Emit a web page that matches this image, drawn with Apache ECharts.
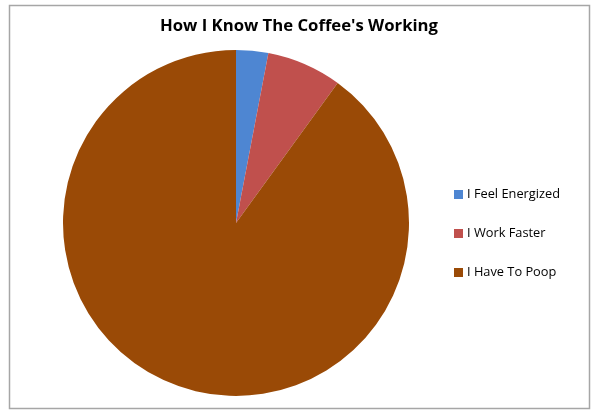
<!DOCTYPE html>
<html><head><meta charset="utf-8">
<script src="https://cdn.jsdelivr.net/npm/echarts@6/dist/echarts.min.js"></script>
<style>html,body{margin:0;padding:0;background:#fff}#c{width:598px;height:415px}</style>
</head><body><div id="c"></div>
<script>
const categories = ["I Feel Energized", "I Work Faster", "I Have To Poop"];
const values = [3, 7, 90];
const colors = ["#4E86D2", "#C0504D", "#9A4A06"];
const titleText = "How I Know The Coffee's Working";

const chart = echarts.init(document.getElementById('c'));
chart.setOption({
  animation: false,
  backgroundColor: '#fff',
  title: {
    text: titleText, left: 'center', top: 13,
    textStyle: { fontFamily: 'Open Sans', fontWeight: 'bold', fontSize: 16.7, color: '#000' }
  },
  graphic: [{
    type: 'rect', shape: { x: 9.5, y: 5.5, width: 580, height: 403 },
    style: { fill: 'none', stroke: '#a6a6a6', lineWidth: 1.5 }, silent: true
  }],
  legend: {
    orient: 'vertical', left: 449, top: 182, itemGap: 24,
    itemWidth: 9, itemHeight: 9, icon: 'rect',
    textStyle: { fontFamily: 'Open Sans', fontSize: 12.8, lineHeight: 15, color: '#000', padding: [0, 0, 0, -1] },
    data: categories
  },
  series: [{
    type: 'pie', center: [236, 223], radius: 173, startAngle: 90, clockwise: true,
    label: { show: false }, labelLine: { show: false },
    itemStyle: { borderWidth: 0 },
    emphasis: { disabled: true },
    data: categories.map((n, i) => ({ name: n, value: values[i], itemStyle: { color: colors[i] } }))
  }]
});
</script></body></html>
